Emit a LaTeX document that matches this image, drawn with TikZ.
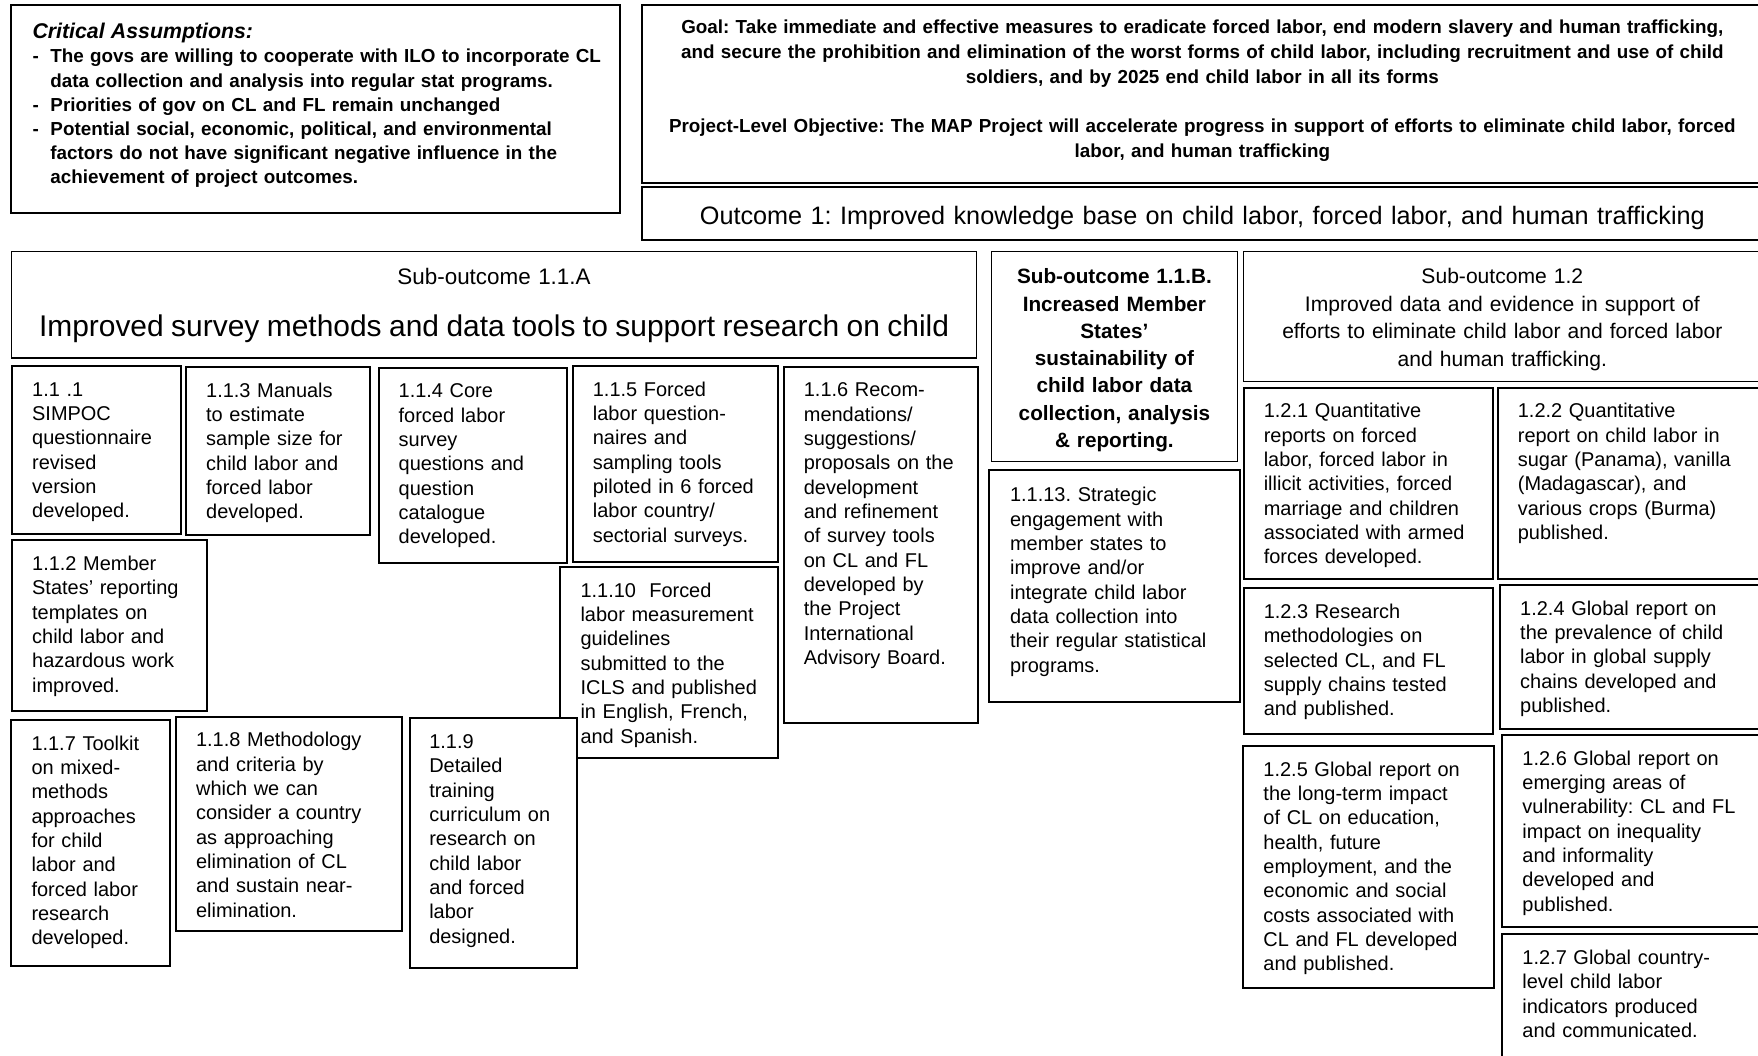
\documentclass[tikz,border=0pt]{standalone}
\usepackage{fontspec}
\setmainfont{Liberation Sans}
\usepackage{tikz}
\frenchspacing

\newcommand{\bodyfont}{\fontsize{17.8}{21.7}\selectfont}
\newcommand{\mapbox}[9][]{%
  \pgfmathsetmacro\mapwd{#5-2*#7}%
  \pgfmathsetmacro\mapdp{#6-#8}%
  \node[cell,inner xsep=#7pt,text width=\mapwd pt,text height=#8pt,text depth=\mapdp pt,#1] (#2) at (#3,#4) {#9};}
\newcommand{\dashline}[1]{\mbox{\makebox[16pt][l]{-}#1}}
\newcommand{\hangline}[1]{\mbox{\hspace*{16pt}#1}}

\begin{document}
\begin{tikzpicture}[x=1pt,y=-1pt]
    \tikzstyle{cell}=[draw, fill=white, line width=1.8pt, anchor=north west, align=left, inner ysep=0pt, font=\bodyfont]
    \tikzstyle{head}=[align=center, line width=1.3pt]
    \clip (0,0) rectangle (1568,941);
      \mapbox[font=\fontsize{16.8}{21.6}\selectfont\bfseries]{crit}{9.1}{3.6}{542.9}{185.8}{19}{30}{%
        {\fontsize{19}{21.6}\selectfont\itshape Critical Assumptions:}\\
        \dashline{The govs are willing to cooperate with ILO to incorporate CL}\\
        \hangline{data collection and analysis into regular stat programs.}\\
        \dashline{Priorities of gov on CL and FL remain unchanged}\\
        \dashline{Potential social, economic, political, and environmental}\\
        \hangline{factors do not have significant negative influence in the}\\
        \hangline{achievement of project outcomes.}}
      \mapbox[head, line width=1.8pt, font=\fontsize{16.8}{22.5}\selectfont\bfseries]{goal}{571.5}{3.6}{1000}{158.4}{20}{25.4}{%
        Goal: Take immediate and effective measures to eradicate forced labor, end modern slavery and human trafficking,\\
        and secure the prohibition and elimination of the worst forms of child labor, including recruitment and use of child\\
        soldiers, and by 2025 end child labor in all its forms\\[20.5pt]
        Project-Level Objective: The MAP Project will accelerate progress in support of efforts to eliminate child labor, forced\\
        labor, and human trafficking}
      \mapbox[head, line width=1.8pt, font=\fontsize{22.5}{27}\selectfont]{outcome}{571.5}{165.6}{1000}{47.9}{10}{33.5}{%
        Outcome 1: Improved knowledge base on child labor, forced labor, and human trafficking}
      \mapbox[head, font=\fontsize{20}{24}\selectfont]{subA}{9.7}{223.6}{860.6}{95.1}{8}{29.6}{%
        Sub-outcome 1.1.A\\[22.4pt]
        {\fontsize{26.7}{24}\selectfont Improved survey methods and data tools to support research on child}}
      \mapbox[head, font=\fontsize{18.5}{24.3}\selectfont\bfseries]{subB}{883.6}{223.6}{219.4}{187.3}{8}{29}{%
        Sub-outcome 1.1.B.\\ Increased Member\\ States’\\ sustainability of\\ child labor data\\ collection, analysis\\ \& reporting.}
      \mapbox[head, font=\fontsize{18.8}{24.4}\selectfont]{subC}{1108.6}{223.6}{461.4}{115.9}{10}{29}{%
        Sub-outcome 1.2\\ Improved data and evidence in support of\\ efforts to eliminate child labor and forced labor\\ and human trafficking.}

      \mapbox{o111}{9.8}{325.5}{150.7}{150}{18}{27}{1.1 .1\\ SIMPOC\\ questionnaire\\ revised\\ version\\ developed.}
      \mapbox{o113}{165}{326.4}{164.3}{150}{18}{27}{1.1.3 Manuals\\ to estimate\\ sample size for\\ child labor and\\ forced labor\\ developed.}
      \mapbox{o114}{336.7}{327}{167.8}{174}{18}{27}{1.1.4 Core\\ forced labor\\ survey\\ questions and\\ question\\ catalogue\\ developed.}
      \mapbox{o115}{509.9}{325.5}{183.4}{175}{18}{27}{1.1.5 Forced\\ labor question-\\ naires and\\ sampling tools\\ piloted in 6 forced\\ labor country/\\ sectorial surveys.}
      \mapbox{o116}{698.6}{326}{172.5}{318}{17.5}{27}{1.1.6 Recom-\\ mendations/\\ suggestions/\\ proposals on the\\ development\\ and refinement\\ of survey tools\\ on CL and FL\\ developed by\\ the Project\\ International\\ Advisory Board.}
      \mapbox{o112}{9.8}{481}{173.7}{152.3}{18}{27}{1.1.2 Member\\ States’ reporting\\ templates on\\ child labor and\\ hazardous work\\ improved.}
      \mapbox{o1110}{498.9}{504.8}{194.4}{170.1}{18}{27}{1.1.10~ Forced\\ labor measurement\\ guidelines\\ submitted to the\\ ICLS and published\\ in English, French,\\ and Spanish.}
      \mapbox{o117}{9.2}{641.3}{141.7}{219.4}{18}{27}{1.1.7 Toolkit\\ on mixed-\\ methods\\ approaches\\ for child\\ labor and\\ forced labor\\ research\\ developed.}
      \mapbox{o118}{156}{638.3}{201.4}{191.2}{18}{27}{1.1.8 Methodology\\ and criteria by\\ which we can\\ consider a country\\ as approaching\\ elimination of CL\\ and sustain near-\\ elimination.}
      \mapbox{o119}{364.5}{639.8}{149.2}{222.4}{17.5}{27}{1.1.9\\ Detailed\\ training\\ curriculum on\\ research on\\ child labor\\ and forced\\ labor\\ designed.}
      \mapbox{o1113}{881.5}{418.6}{223.5}{206.6}{18.5}{28}{1.1.13. Strategic\\ engagement with\\ member states to\\ improve and/or\\ integrate child labor\\ data collection into\\ their regular statistical\\ programs.}

      \mapbox{o121}{1108.3}{344.9}{222.7}{170.9}{18}{27}{1.2.1 Quantitative\\ reports on forced\\ labor, forced labor in\\ illicit activities, forced\\ marriage and children\\ associated with armed\\ forces developed.}
      \mapbox{o122}{1334.9}{344.9}{235}{170.9}{18}{27}{1.2.2 Quantitative\\ report on child labor in\\ sugar (Panama), vanilla\\ (Madagascar), and\\ various crops (Burma)\\ published.}
      \mapbox{o123}{1108.3}{523.3}{222.7}{130.7}{18}{27.5}{1.2.3 Research\\ methodologies on\\ selected CL, and FL\\ supply chains tested\\ and published.}
      \mapbox{o124}{1336.7}{520.9}{233.3}{128.7}{18.3}{27}{1.2.4 Global report on\\ the prevalence of child\\ labor in global supply\\ chains developed and\\ published.}
      \mapbox{o125}{1108}{664.5}{223.4}{215.5}{18}{27}{1.2.5 Global report on\\ the long-term impact\\ of CL on education,\\ health, future\\ employment, and the\\ economic and social\\ costs associated with\\ CL and FL developed\\ and published.}
      \mapbox{o126}{1338.4}{654.7}{231.6}{171.2}{18.6}{27}{1.2.6 Global report on\\ emerging areas of\\ vulnerability: CL and FL\\ impact on inequality\\ and informality\\ developed and\\ published.}
      \mapbox{o127}{1338.4}{831.9}{231.6}{130}{18.6}{27.5}{1.2.7 Global country-\\ level child labor\\ indicators produced\\ and communicated.}
\end{tikzpicture}
\end{document}
